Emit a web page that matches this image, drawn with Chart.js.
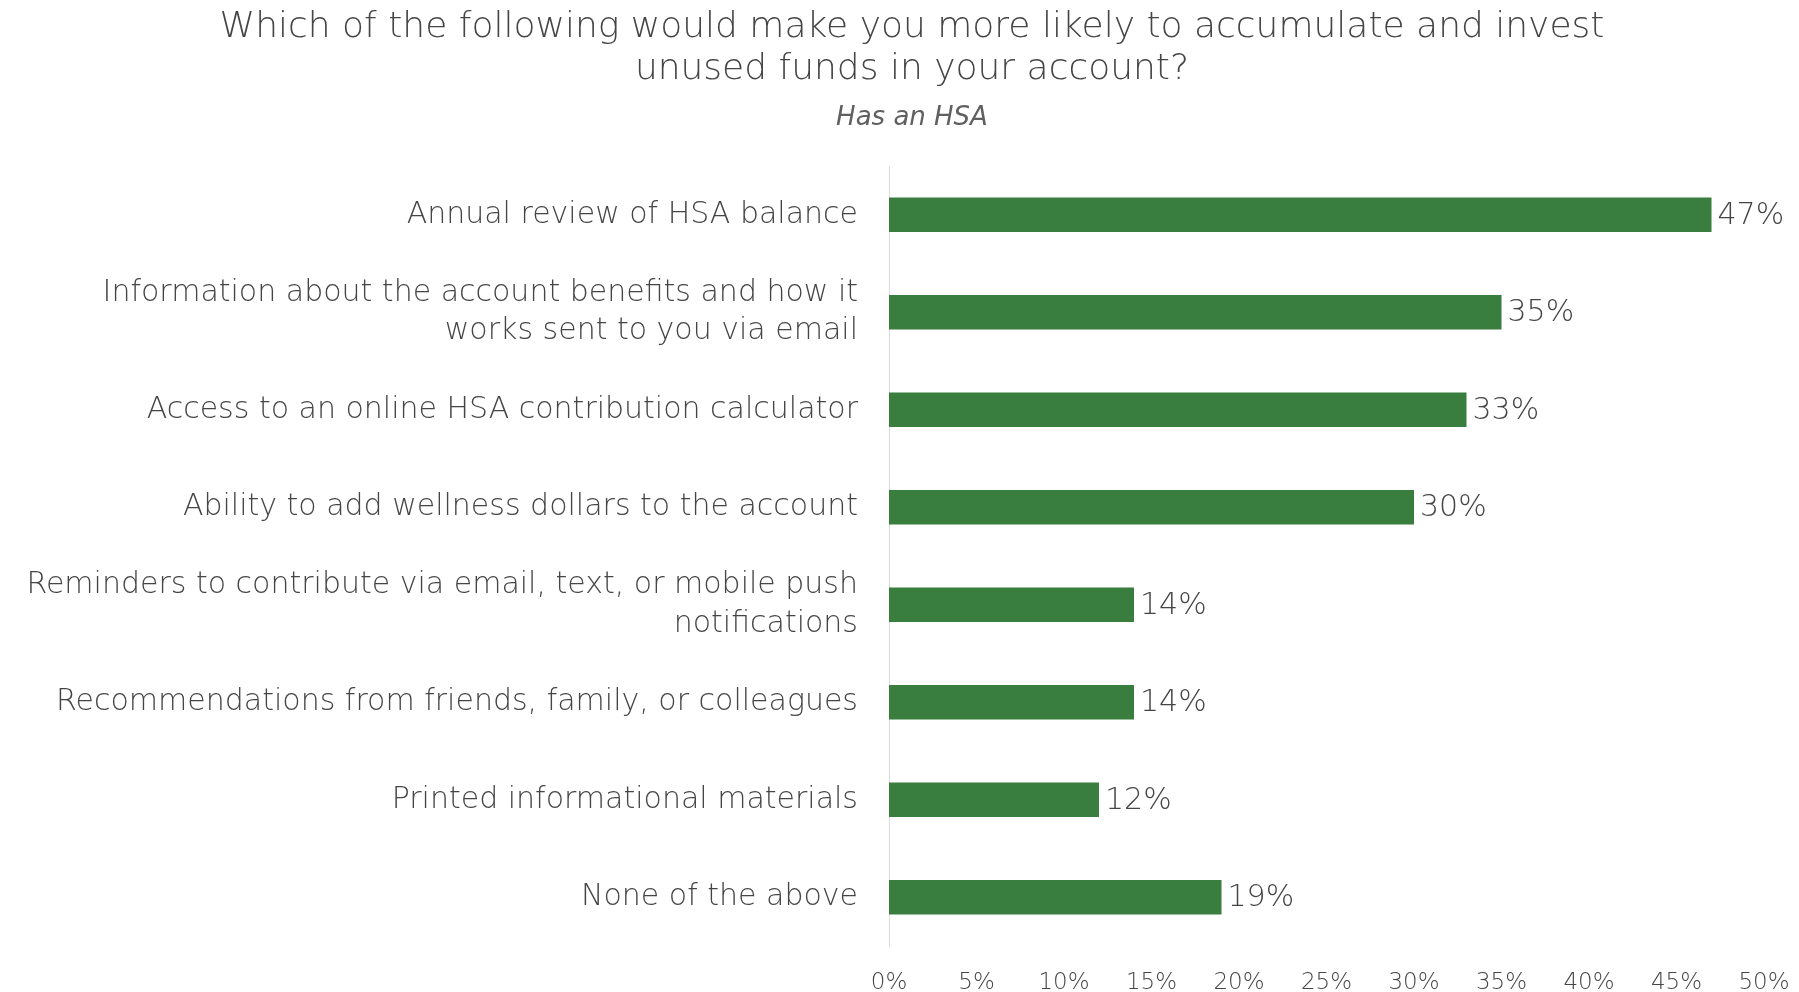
<!DOCTYPE html>
<html>
<head>
<meta charset="utf-8">
<script src="https://cdn.jsdelivr.net/npm/chart.js@4"></script>
<style>
  html, body { margin: 0; padding: 0; background: #fff; }
  #wrap { width: 1799px; height: 992px; }
</style>
</head>
<body>
<div id="wrap"><canvas id="hsaChart"></canvas></div>
<script>
// survey answers, top to bottom
const categories = [
  'Annual review of HSA balance',
  ['Information about the account benefits and how it', 'works sent to you via email'],
  'Access to an online HSA contribution calculator',
  'Ability to add wellness dollars to the account',
  ['Reminders to contribute via email, text, or mobile push', 'notifications'],
  'Recommendations from friends, family, or colleagues',
  'Printed informational materials',
  'None of the above'
];
const shares = [47, 35, 33, 30, 14, 14, 12, 19];
const tickValues = [0, 5, 10, 15, 20, 25, 30, 35, 40, 45, 50];

const titleLines = ['Which of the following would make you more likely to accumulate and invest', 'unused funds in your account?'];
const subtitleText = 'Has an HSA';

const FONT = "'DejaVu Sans', sans-serif";
const GREY = '#454545';

// heading sits a little right of the canvas centre, over the whole figure
const heading = {
  id: 'heading',
  afterDraw(chart) {
    const ctx = chart.ctx;
    const cx = 912;
    ctx.save();
    ctx.textAlign = 'center';
    ctx.textBaseline = 'middle';
    ctx.fillStyle = GREY;
    ctx.font = '200 36px ' + FONT;
    titleLines.forEach((line, i) => ctx.fillText(line, cx, 28 + i * 42));
    ctx.fillStyle = '#606060';
    ctx.font = 'italic 200 26px ' + FONT;
    ctx.fillText(subtitleText, cx, 118);
    ctx.restore();
  }
};

// prints "47%" etc. just past the end of each bar
const valueLabels = {
  id: 'valueLabels',
  afterDatasetsDraw(chart) {
    const ctx = chart.ctx;
    const meta = chart.getDatasetMeta(0);
    ctx.save();
    ctx.font = '200 30px ' + FONT;
    ctx.fillStyle = GREY;
    ctx.textAlign = 'left';
    ctx.textBaseline = 'middle';
    meta.data.forEach(function(bar, i) {
      ctx.fillText(shares[i] + '%', bar.x + 6, bar.y + 1);
    });
    ctx.restore();
  }
};

const ctx = document.getElementById('hsaChart').getContext('2d');
new Chart(ctx, {
  type: 'bar',
  data: {
    labels: categories,
    datasets: [{
      data: shares,
      backgroundColor: '#397D3F',
      barPercentage: 0.353,
      categoryPercentage: 1.0
    }]
  },
  options: {
    indexAxis: 'y',
    responsive: true,
    maintainAspectRatio: false,
    animation: false,
    layout: { padding: { left: 10, right: 35, top: 166, bottom: 0 } },
    plugins: {
      legend: { display: false },
      tooltip: { enabled: false },
      title: { display: false }
    },
    scales: {
      x: {
        min: 0,
        max: 50,
        afterBuildTicks(scale) {
          scale.ticks = tickValues.map(v => ({ value: v }));
        },
        grid: { display: false, drawTicks: false },
        border: { display: false },
        ticks: {
          color: GREY,
          padding: 23,
          font: { family: FONT, size: 23, weight: 200 },
          callback: v => v + '%'
        },
        afterFit(scale) {
          scale.height = 46;
          scale.paddingLeft = 0;
          scale.paddingRight = 0;
        }
      },
      y: {
        grid: { display: false, drawTicks: false },
        border: { display: true, color: '#D9D9D9', width: 1 },
        ticks: {
          color: GREY,
          padding: 31,
          font: { family: FONT, size: 30, weight: 200, lineHeight: 1.27 }
        },
        afterFit(scale) {
          scale.width = 879;
          scale.paddingTop = 0;
          scale.paddingBottom = 0;
        }
      }
    }
  },
  plugins: [valueLabels, heading]
});
</script>
</body>
</html>
